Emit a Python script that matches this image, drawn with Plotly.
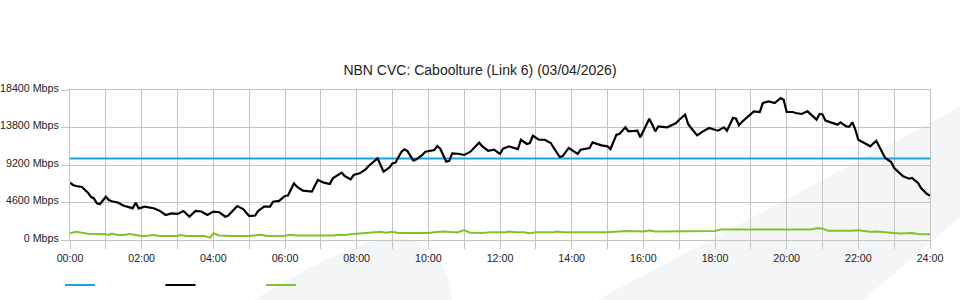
import plotly.graph_objects as go

# ---------------- data ----------------
title_text = "NBN CVC: Caboolture (Link 6) (03/04/2026)"

capacity_times = ["00:00", "24:00"]
capacity_values = [10000, 10000]

traffic_times = [
    "00:00", "00:05", "00:10", "00:20", "00:30", "00:35", "00:40", "00:45", "00:50",
    "01:00", "01:05", "01:10", "01:20", "01:30", "01:40", "01:45", "01:50", "01:55",
    "02:00", "02:05", "02:20", "02:30", "02:40", "02:50",
    "03:00", "03:10", "03:20", "03:30", "03:40", "03:50",
    "04:00", "04:10", "04:20", "04:25", "04:40", "04:50",
    "05:00", "05:10", "05:15", "05:25", "05:35", "05:40", "05:50",
    "06:00", "06:05", "06:15", "06:20", "06:30", "06:45", "06:55",
    "07:05", "07:15", "07:20", "07:25", "07:35", "07:40", "07:50", "07:55",
    "08:05", "08:15", "08:20", "08:35", "08:40", "08:45", "08:55",
    "09:00", "09:05", "09:15", "09:20", "09:25", "09:35", "09:40", "09:50", "09:55",
    "10:10", "10:15", "10:20", "10:30", "10:35", "10:40", "10:50",
    "11:00", "11:10", "11:25", "11:30", "11:40", "11:50",
    "12:00", "12:05", "12:15", "12:30", "12:35", "12:45", "12:50", "12:55",
    "13:05", "13:15", "13:25", "13:30", "13:40", "13:45", "13:55",
    "14:10", "14:15", "14:30", "14:35", "14:50",
    "15:00", "15:05", "15:15", "15:20", "15:30", "15:35", "15:50", "15:55",
    "16:10", "16:15", "16:20", "16:25", "16:40", "16:55",
    "17:00", "17:10", "17:15", "17:20", "17:30", "17:40", "17:45", "17:50",
    "18:05", "18:15", "18:20", "18:30", "18:35", "18:40", "18:45", "18:55",
    "19:05", "19:15", "19:20", "19:30", "19:40", "19:50", "19:55",
    "20:00", "20:10", "20:15", "20:25", "20:35", "20:40", "20:50", "20:55",
    "21:00", "21:05", "21:15", "21:25", "21:30", "21:40", "21:45", "21:50", "21:55",
    "22:00", "22:10", "22:20", "22:30", "22:35", "22:45", "22:55",
    "23:00", "23:15", "23:25", "23:30", "23:40", "23:45", "23:55", "24:00",
]
traffic_values = [
    7030, 6750, 6620, 6500, 5800, 5300, 5100, 4500, 4400,
    5300, 4900, 4750, 4600, 4200, 4000, 3880, 4580, 3880,
    3970, 4100, 3900, 3600, 3070, 3270,
    3200, 3560, 2860, 3560, 3500, 3070,
    3480, 3400, 2860, 3000, 4170, 3800,
    2940, 3000, 3560, 4090, 4100, 4700, 4800,
    5400, 5450, 6950, 6540, 6050, 5930, 7360,
    7030, 6870, 7560, 7770, 8260, 7850, 7440, 7970,
    8180, 8670, 9080, 10020, 9200, 8380, 8910,
    9400, 9500, 10830, 11120, 10900, 9730, 9900, 10430, 10830,
    11040, 11530, 11200, 9610, 9700, 10630, 10580,
    10430, 10800, 11940, 11500, 10950, 11080,
    10550, 11200, 11490, 11160, 12300, 11780, 11900, 12790,
    12300, 12300, 11900, 11290, 10180, 10300, 11290,
    10550, 11080, 11290, 11980, 11610,
    11490, 11160, 12920, 13000, 13820, 13330, 13410, 12600,
    14880, 14150, 13330, 13940, 13820, 14350,
    14760, 15370, 14230, 13740, 12840, 13330, 13530, 13740,
    13410, 13820, 13410, 14970, 14900, 14070, 14480, 15170,
    15780, 15700, 16800, 17010, 16800, 17420, 17200,
    15700, 15700, 15580, 15460, 15780, 15460, 14760, 15460,
    15400, 14640, 14350, 14150, 14440, 13940, 13900, 14440, 13530,
    12300, 11900, 11490, 12180, 11490, 10060, 9570,
    8830, 7810, 7520, 7600, 6990, 6380, 5640, 5440,
]

upload_times = [
    "00:00", "00:10", "00:20", "00:30", "01:00", "01:05", "01:10", "01:20", "01:30",
    "01:40", "01:50", "02:00", "02:10", "02:20", "02:30", "03:00", "03:05", "03:15",
    "03:45", "03:55", "04:00", "04:10", "04:30", "05:00", "05:20", "05:30",
    "06:00", "06:10", "06:20", "07:00", "07:20", "07:30", "07:40", "07:50",
    "08:10", "08:40", "08:50", "09:00", "09:10", "09:30", "10:00", "10:10",
    "10:25", "10:40", "10:50", "11:00", "11:10", "11:30", "11:45", "12:00",
    "12:10", "12:15", "12:25", "12:40", "12:50", "13:00", "13:30", "13:35",
    "13:45", "15:00", "15:30", "16:00", "16:10", "16:20", "17:00", "17:30",
    "18:00", "18:10", "18:50", "19:00", "19:20", "19:30", "20:00", "20:20",
    "20:40", "20:50", "21:00", "21:10", "21:30", "21:50", "22:00", "22:20",
    "22:30", "22:45", "23:00", "23:10", "23:20", "23:30", "23:40", "24:00",
]
upload_values = [
    830, 1000, 900, 780, 720, 620, 780, 620, 600,
    720, 620, 480, 530, 600, 480, 500, 620, 480,
    480, 290, 820, 560, 500, 500, 650, 500,
    530, 650, 550, 550, 550, 650, 620, 700,
    800, 1020, 900, 1000, 850, 820, 850, 950,
    1050, 950, 950, 1230, 900, 850, 950, 950,
    950, 1050, 950, 950, 820, 950, 950, 1050,
    950, 950, 1100, 1050, 1150, 1050, 1100, 1080,
    1100, 1300, 1300, 1250, 1250, 1250, 1300, 1230,
    1300, 1450, 1400, 1120, 1100, 1150, 1200, 1020,
    1050, 950, 900, 800, 820, 850, 750, 720,
]

y_tick_values = [0, 4600, 9200, 13800, 18400]
y_tick_labels = ["0 Mbps", "4600 Mbps", "9200 Mbps", "13800 Mbps", "18400 Mbps"]
x_tick_values = [0, 2, 4, 6, 8, 10, 12, 14, 16, 18, 20, 22, 24]
x_tick_labels = ["00:00", "02:00", "04:00", "06:00", "08:00", "10:00", "12:00",
                 "14:00", "16:00", "18:00", "20:00", "22:00", "24:00"]


def to_hours(times):
    out = []
    for t in times:
        h, m = t.split(":")
        out.append(int(h) + int(m) / 60.0)
    return out


FONT = "Liberation Sans, Arial, sans-serif"
GRID = "#c4c4c4"

fig = go.Figure()
fig.add_trace(go.Scatter(x=to_hours(capacity_times), y=capacity_values, mode="lines",
                         name="", line=dict(color="#1aa3df", width=2)))
fig.add_trace(go.Scatter(x=to_hours(traffic_times), y=traffic_values, mode="lines",
                         name="", line=dict(color="#000000", width=2.2)))
fig.add_trace(go.Scatter(x=to_hours(upload_times), y=upload_values, mode="lines",
                         name="", line=dict(color="#7dc42c", width=2)))

# faint background watermark (decoration, paper coordinates)
fig.add_shape(type="path", xref="paper", yref="paper", layer="below",
              path="M0.2128,-0.4 L0.2674,-0.22 L0.314,-0.0867 L0.3547,0 L0.3837,0.02 "
                   "L0.407,-0.0133 L0.4302,-0.12 L0.4395,-0.2667 L0.4442,-0.4 Z",
              fillcolor="#f4f5f7", line=dict(width=0))
fig.add_shape(type="path", xref="paper", yref="paper", layer="below",
              path="M0.6128,-0.4 L1.0349,0.8867 L1.0349,0.1533 L0.9221,-0.4 Z",
              fillcolor="#f4f5f7", line=dict(width=0))

fig.update_layout(
    width=960, height=300,
    margin=dict(l=70, r=30, t=90, b=60, autoexpand=False),
    paper_bgcolor="white", plot_bgcolor="white",
    font=dict(family=FONT, size=10.7, color="#222222"),
    title=dict(text=title_text, x=0.5, xref="container", xanchor="center",
               y=1 - 70 / 300, yref="container", yanchor="middle",
               font=dict(family=FONT, size=14, color="#222222")),
    showlegend=True,
    legend=dict(orientation="h", x=-10 / 860, xanchor="left", y=-0.3, yanchor="middle",
                entrywidth=55.5, entrywidthmode="pixels", font=dict(size=11),
                bgcolor="rgba(0,0,0,0)"),
    xaxis=dict(range=[0, 24], tickmode="array", tickvals=x_tick_values, ticktext=x_tick_labels,
               showgrid=True, gridcolor=GRID, gridwidth=1, zeroline=False, automargin=False,
               ticks="outside", ticklen=8, tickcolor=GRID, tickwidth=1,
               showline=True, linecolor=GRID, linewidth=1, mirror=True,
               minor=dict(dtick=1, tick0=0, showgrid=True, gridcolor=GRID, gridwidth=1,
                          ticks="outside", ticklen=8, tickcolor=GRID),
               fixedrange=True),
    yaxis=dict(range=[0, 18400], tickmode="array", tickvals=y_tick_values, ticktext=y_tick_labels,
               showgrid=True, gridcolor=GRID, gridwidth=1, zeroline=False, automargin=False,
               ticks="outside", ticklen=8, tickcolor=GRID, tickwidth=1,
               ticklabelshift=-2,
               showline=True, linecolor=GRID, linewidth=1, mirror=True,
               fixedrange=True),
)

fig.write_html("out.html")
